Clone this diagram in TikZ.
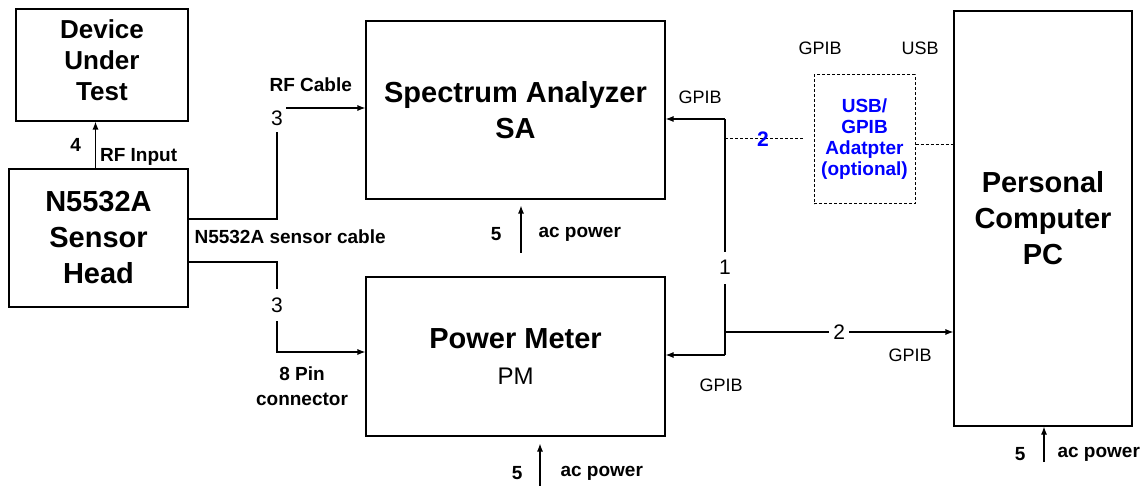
\documentclass[tikz,border=0pt]{standalone}
\usepackage{fontspec}
\setmainfont{Liberation Sans}
\usetikzlibrary{arrows.meta}
\newcommand\unitfont{\fontsize{29}{36}\selectfont\bfseries}
\newcommand\dutfont{\fontsize{26}{31}\selectfont\bfseries}
\newcommand\tagfont{\fontsize{19}{25}\selectfont\bfseries}
\newcommand\adaptfont{\fontsize{19}{21}\selectfont\bfseries}
\newcommand\busfont{\fontsize{18}{22}\selectfont}
\newcommand\numfont{\fontsize{21}{24}\selectfont}
\begin{document}
\begin{tikzpicture}[x=1pt,y=-1pt,line width=1.1pt,
  >={Latex[length=8pt,width=6pt]},
  unit/.style={draw,rectangle,inner sep=0pt,align=center,font=\unitfont},
  tag/.style={inner sep=1pt,font=\tagfont},
  bus/.style={inner sep=1pt,font=\busfont},
  num/.style={inner sep=3pt,font=\numfont,fill=white},
  opt/.style={dash pattern=on 3pt off 2pt,line width=1pt}]
  \useasboundingbox (0,0) rectangle (1145,486);
  % The instruments.
  \node[unit,minimum width=172pt,minimum height=112pt,
    label={[yshift=5pt,align=center,font=\dutfont]center:Device\\Under\\Test}] (dut) at (102,65) {};
  \node[unit,minimum width=179pt,minimum height=138pt] (head) at (98.5,238) {N5532A\\Sensor\\Head};
  \node[unit,minimum width=299pt,minimum height=178pt] (sa) at (515.5,110) {Spectrum Analyzer\\SA};
  \node[unit,minimum width=299pt,minimum height=159pt] (pm) at (515.5,356.5) {Power Meter\\{\fontsize{24}{36}\selectfont\mdseries PM}};
  \node[unit,minimum width=178pt,minimum height=415pt] (pc) at (1043,218.5) {Personal\\Computer\\PC};
  \node[unit,opt,text=blue,font=\adaptfont,minimum width=101pt,minimum height=129pt] (adapt) at (864.5,139.5) {USB/\\GPIB\\Adatpter\\(optional)};
  % RF input and the two sensor cables.
  \coordinate (rfout) at ([xshift=-3pt]head.north);
  \draw[->] (rfout) -- node[left=13pt,tag]{4} node[pos=.25,right=3pt,tag]{RF Input} (rfout |- dut.south);
  \coordinate (rfbend) at (277,108);
  \coordinate (pinbend) at (277,352);
  \draw[->] (head.east |- 0,219) -| (rfbend) -- (rfbend -| sa.west);
  \node[num,minimum height=28pt] at ([yshift=-10pt]rfbend) {3};
  \draw[->] (head.east |- 0,262) -| (pinbend) -- (pinbend -| pm.west);
  \node[num,minimum height=32pt] at (277,305) {3};
  \node[tag,anchor=west] at (268,85) {RF Cable};
  \node[tag,anchor=west] at (193,237) {N5532A sensor cable};
  \node[tag,align=center] at (302,386) {8 Pin\\connector};
  % GPIB bus and the optional adapter.
  \coordinate (busS) at (725,119);
  \coordinate (busA) at (725,139);
  \coordinate (busC) at (725,332);
  \coordinate (busP) at (725,355);
  \coordinate (adR) at ([yshift=-5pt]adapt.east);
  \draw[->] (busS) -- (busS -| sa.east);
  \draw[->] (busP) -- (busP -| pm.east);
  \draw (busS) -- node[num,pos=.63,minimum height=32pt]{1} (busP);
  \draw[->] (busC) -- node[num,inner xsep=4pt]{2} (busC -| pc.west);
  \draw[opt,shorten >=9pt] (busA) -- node[pos=.43,inner sep=1pt,text=blue,font=\numfont\bfseries]{2} (busA -| adapt.west);
  \draw[opt] (adR) -- (adR -| pc.west);
  \node[bus] at (700,97) {GPIB};
  \node[bus] at (721,385) {GPIB};
  \node[bus] at (910,355) {GPIB};
  \node[bus] at (820,48) {GPIB};
  \node[bus] at (920,48) {USB};
  % ac power feeds.
  \coordinate (saAC) at (521,253);
  \coordinate (pmAC) at (540,486);
  \coordinate (pcAC) at (1044,462);
  \draw[->,shorten >=6pt] (saAC) -- node[pos=.35,left=18pt,tag]{5} node[pos=.35,right=16pt,tag]{ac power} (saAC |- sa.south);
  \draw[->,shorten >=7pt] (pmAC) -- node[pos=.26,left=16pt,tag]{5} node[pos=.26,right=19pt,tag]{ac power} (pmAC |- pm.south);
  \draw[->] (pcAC) -- node[pos=.22,left=17pt,tag]{5} node[pos=.22,right=12pt,tag]{ac power} (pcAC |- pc.south);
\end{tikzpicture}
\end{document}
